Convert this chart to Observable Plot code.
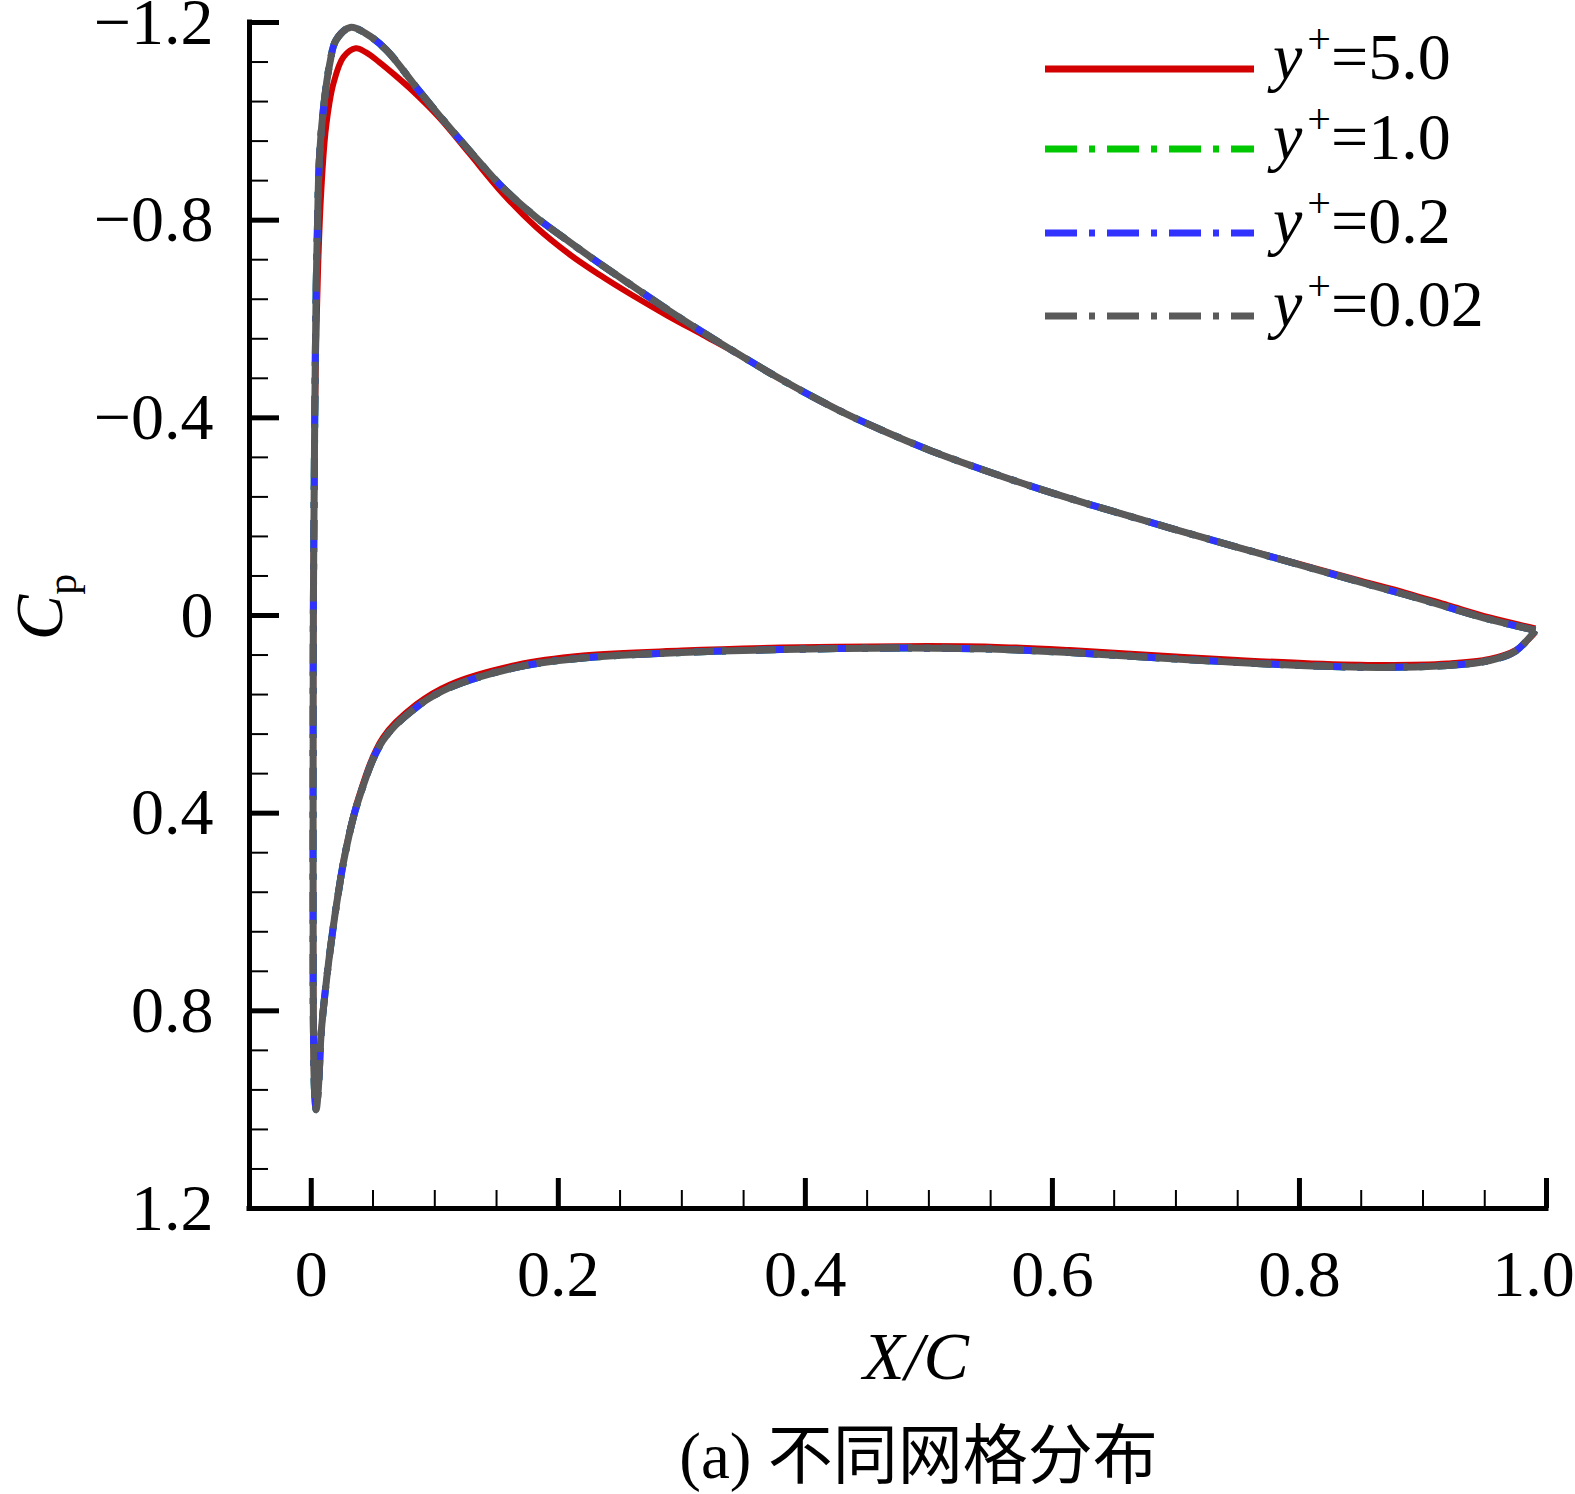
<!DOCTYPE html>
<html>
<head>
<meta charset="utf-8">
<script src="https://cdn.jsdelivr.net/npm/d3@7"></script>
<script src="https://cdn.jsdelivr.net/npm/@observablehq/plot@0.6"></script>
<style>
html, body { margin: 0; padding: 0; background: #fff; overflow: hidden; }
#chart svg { display: block; }
#caption {
  font-family: 'Liberation Serif', 'Noto Sans CJK SC', serif;
  font-size: 65px; color: #000;
  height: 76px; line-height: 76px; padding-top: 18px;
  width: 1313px; padding-left: 262px; text-align: center; white-space: nowrap;
}
</style>
</head>
<body>
<div id="chart"></div>
<div id="caption">(a) 不同网格分布</div>
<script>
// ---- scale domains and ticks ----
const xDomain = [-0.05, 1.0];
const yDomain = [-1.2, 1.2];
const xTickValues = [0, 0.2, 0.4, 0.6, 0.8, 1.0];
const xTickLabels = ["0", "0.2", "0.4", "0.6", "0.8", "1.0"];
const xMinorTicks = [0.05, 0.1, 0.15, 0.25, 0.3, 0.35, 0.45, 0.5, 0.55, 0.65, 0.7, 0.75, 0.85, 0.9, 0.95];
const yTickValues = [-1.2, -0.8, -0.4, 0, 0.4, 0.8, 1.2];
const yTickLabels = ["\u22121.2", "\u22120.8", "\u22120.4", "0", "0.4", "0.8", "1.2"];
const yMinorTicks = [-1.12, -1.04, -0.96, -0.88, -0.72, -0.64, -0.56, -0.48, -0.32, -0.24, -0.16, -0.08,
                     0.08, 0.16, 0.24, 0.32, 0.48, 0.56, 0.64, 0.72, 0.88, 0.96, 1.04, 1.12];

// ---- series names ----
const seriesNames = ["y+=5.0", "y+=1.0", "y+=0.2", "y+=0.02"];
const legendValues = ["5.0", "1.0", "0.2", "0.02"];

// ---- Cp along the surface [X/C, Cp]: upper surface TE -> LE, then lower surface LE -> TE ----
// y+ = 5.0 (coarse first cell)
const cpYplus50 = [
  [0.991, 0.026], [0.954, 0.004], [0.920, -0.021], [0.886, -0.046], [0.850, -0.070],
  [0.818, -0.092], [0.784, -0.115], [0.750, -0.138], [0.716, -0.162], [0.683, -0.186],
  [0.650, -0.210], [0.614, -0.237], [0.580, -0.264], [0.546, -0.293], [0.502, -0.333],
  [0.462, -0.375], [0.433, -0.408], [0.405, -0.444], [0.376, -0.484], [0.347, -0.527],
  [0.317, -0.568], [0.289, -0.606], [0.260, -0.648], [0.233, -0.690], [0.209, -0.731],
  [0.182, -0.786], [0.155, -0.854], [0.128, -0.935], [0.107, -0.998], [0.095, -1.030],
  [0.082, -1.062], [0.068, -1.093], [0.055, -1.120], [0.044, -1.140], [0.036, -1.148],
  [0.026, -1.130], [0.018, -1.077], [0.012, -0.988], [0.008, -0.854], [0.0055, -0.700],
  [0.004, -0.550], [0.003, -0.400], [0.0022, -0.200], [0.0017, 0.000], [0.0015, 0.300],
  [0.0015, 0.600], [0.0018, 0.850], [0.0028, 0.970], [0.004, 0.995],
  [0.006, 0.945], [0.008, 0.846], [0.012, 0.745], [0.017, 0.645], [0.022, 0.558],
  [0.028, 0.472], [0.038, 0.370], [0.058, 0.247], [0.085, 0.180], [0.112, 0.140],
  [0.166, 0.100], [0.220, 0.081], [0.300, 0.071], [0.380, 0.065], [0.478, 0.062],
  [0.550, 0.063], [0.614, 0.070], [0.680, 0.080], [0.750, 0.090], [0.810, 0.097],
  [0.868, 0.100], [0.920, 0.097], [0.954, 0.088], [0.975, 0.070], [0.991, 0.034]
];
// y+ = 1.0, 0.2, 0.02 (refined meshes, practically coincident)
const cpYplus10 = [
  [0.991, 0.030], [0.954, 0.008], [0.920, -0.017], [0.886, -0.042], [0.850, -0.067],
  [0.818, -0.090], [0.784, -0.114], [0.750, -0.138], [0.716, -0.162], [0.683, -0.186],
  [0.650, -0.210], [0.614, -0.237], [0.580, -0.264], [0.546, -0.293], [0.502, -0.333],
  [0.462, -0.375], [0.433, -0.408], [0.405, -0.444], [0.376, -0.484], [0.347, -0.527],
  [0.317, -0.573], [0.289, -0.618], [0.260, -0.667], [0.233, -0.713], [0.209, -0.756],
  [0.182, -0.806], [0.155, -0.866], [0.128, -0.941], [0.107, -1.002], [0.085, -1.069],
  [0.061, -1.144], [0.044, -1.178], [0.0315, -1.190], [0.020, -1.164], [0.015, -1.117],
  [0.0097, -1.022], [0.0065, -0.920], [0.005, -0.785], [0.004, -0.664], [0.003, -0.450],
  [0.0022, -0.200], [0.0017, 0.000], [0.0015, 0.300], [0.0015, 0.600], [0.0018, 0.850],
  [0.0028, 0.970], [0.004, 1.000],
  [0.006, 0.947], [0.008, 0.846], [0.012, 0.745], [0.017, 0.645], [0.022, 0.560],
  [0.028, 0.475], [0.038, 0.375], [0.058, 0.253], [0.085, 0.186], [0.112, 0.146],
  [0.166, 0.105], [0.220, 0.086], [0.300, 0.075], [0.380, 0.069], [0.478, 0.066],
  [0.550, 0.068], [0.614, 0.075], [0.680, 0.085], [0.750, 0.095], [0.810, 0.102],
  [0.868, 0.105], [0.920, 0.101], [0.954, 0.091], [0.975, 0.072], [0.991, 0.030]
];
const cpYplus02 = [
  [0.991, 0.030], [0.954, 0.008], [0.920, -0.017], [0.886, -0.042], [0.850, -0.067],
  [0.818, -0.090], [0.784, -0.114], [0.750, -0.138], [0.716, -0.162], [0.683, -0.186],
  [0.650, -0.210], [0.614, -0.237], [0.580, -0.264], [0.546, -0.293], [0.502, -0.333],
  [0.462, -0.375], [0.433, -0.408], [0.405, -0.444], [0.376, -0.484], [0.347, -0.527],
  [0.317, -0.573], [0.289, -0.618], [0.260, -0.667], [0.233, -0.713], [0.209, -0.756],
  [0.182, -0.806], [0.155, -0.866], [0.128, -0.941], [0.107, -1.002], [0.085, -1.069],
  [0.061, -1.144], [0.044, -1.178], [0.0315, -1.190], [0.020, -1.164], [0.015, -1.117],
  [0.0097, -1.022], [0.0065, -0.920], [0.005, -0.785], [0.004, -0.664], [0.003, -0.450],
  [0.0022, -0.200], [0.0017, 0.000], [0.0015, 0.300], [0.0015, 0.600], [0.0018, 0.850],
  [0.0028, 0.970], [0.004, 1.000],
  [0.006, 0.947], [0.008, 0.846], [0.012, 0.745], [0.017, 0.645], [0.022, 0.560],
  [0.028, 0.475], [0.038, 0.375], [0.058, 0.253], [0.085, 0.186], [0.112, 0.146],
  [0.166, 0.105], [0.220, 0.086], [0.300, 0.075], [0.380, 0.069], [0.478, 0.066],
  [0.550, 0.068], [0.614, 0.075], [0.680, 0.085], [0.750, 0.095], [0.810, 0.102],
  [0.868, 0.105], [0.920, 0.101], [0.954, 0.091], [0.975, 0.072], [0.991, 0.030]
];
const cpYplus002 = [
  [0.991, 0.030], [0.954, 0.008], [0.920, -0.017], [0.886, -0.042], [0.850, -0.067],
  [0.818, -0.090], [0.784, -0.114], [0.750, -0.138], [0.716, -0.162], [0.683, -0.186],
  [0.650, -0.210], [0.614, -0.237], [0.580, -0.264], [0.546, -0.293], [0.502, -0.333],
  [0.462, -0.375], [0.433, -0.408], [0.405, -0.444], [0.376, -0.484], [0.347, -0.527],
  [0.317, -0.573], [0.289, -0.618], [0.260, -0.667], [0.233, -0.713], [0.209, -0.756],
  [0.182, -0.806], [0.155, -0.866], [0.128, -0.941], [0.107, -1.002], [0.085, -1.069],
  [0.061, -1.144], [0.044, -1.178], [0.0315, -1.190], [0.020, -1.164], [0.015, -1.117],
  [0.0097, -1.022], [0.0065, -0.920], [0.005, -0.785], [0.004, -0.664], [0.003, -0.450],
  [0.0022, -0.200], [0.0017, 0.000], [0.0015, 0.300], [0.0015, 0.600], [0.0018, 0.850],
  [0.0028, 0.970], [0.004, 1.000],
  [0.006, 0.947], [0.008, 0.846], [0.012, 0.745], [0.017, 0.645], [0.022, 0.560],
  [0.028, 0.475], [0.038, 0.375], [0.058, 0.253], [0.085, 0.186], [0.112, 0.146],
  [0.166, 0.105], [0.220, 0.086], [0.300, 0.075], [0.380, 0.069], [0.478, 0.066],
  [0.550, 0.068], [0.614, 0.075], [0.680, 0.085], [0.750, 0.095], [0.810, 0.102],
  [0.868, 0.105], [0.920, 0.101], [0.954, 0.091], [0.975, 0.072], [0.991, 0.030]
];

// ---- styles ----
const colors = ["#d20000", "#00c800", "#3232ff", "#5a5a5a"];
const dashes = [null, "32,12,6,12", "32,12,6,12", "54,8"];
const dashOffsets = [0, 0, 0, 34];
const widths = [6, 7, 7, 7];
const seriesData = [cpYplus50, cpYplus10, cpYplus02, cpYplus002];

// ---- layout ----
const W = 1575, H = 1400;
const mTop = 22, mLeft = 249, mRight = 29, mBottom = H - 1208;
const innerW = W - mLeft - mRight;
const innerH = H - mTop - mBottom;
const FS = 66;

const lineMarks = seriesData.map((data, i) => Plot.line(data, {
  x: d => d[0], y: d => d[1],
  stroke: colors[i], strokeWidth: widths[i],
  strokeDasharray: dashes[i] || undefined, strokeDashoffset: dashOffsets[i],
  strokeLinecap: "butt", strokeLinejoin: "round",
  curve: "catmull-rom"
}));

const xFmt = d => xTickLabels[xTickValues.indexOf(d)];
const yFmt = d => yTickLabels[yTickValues.indexOf(d)];

const plot = Plot.plot({
  width: W, height: H,
  marginTop: mTop, marginLeft: mLeft, marginRight: mRight, marginBottom: mBottom,
  style: { fontFamily: "'Liberation Serif','Times New Roman',serif", background: "#fff", color: "#000", overflow: "visible" },
  x: { domain: xDomain, label: null },
  y: { domain: yDomain, reverse: true, label: null },
  marks: [
    ...lineMarks,
    // axis lines
    Plot.ruleX([xDomain[0]], { stroke: "#000", strokeWidth: 5, strokeLinecap: "square" }),
    Plot.ruleY([yDomain[1]], { stroke: "#000", strokeWidth: 5, strokeLinecap: "square" }),
    // inward ticks
    Plot.tickX(xTickValues, { x: d => d, stroke: "#000", strokeWidth: 5, insetTop: innerH - 30 }),
    Plot.tickX(xMinorTicks, { x: d => d, stroke: "#000", strokeWidth: 2, insetTop: innerH - 18 }),
    Plot.tickY(yTickValues, { y: d => d, stroke: "#000", strokeWidth: 5, insetRight: innerW - 30 }),
    Plot.tickY(yMinorTicks, { y: d => d, stroke: "#000", strokeWidth: 2, insetRight: innerW - 19 }),
    // tick labels
    Plot.axisX({ ticks: xTickValues.filter(v => v < 1), tickSize: 0, tickPadding: 41, fontSize: FS, tickFormat: xFmt, label: null }),
    Plot.axisX({ ticks: xTickValues.filter(v => v >= 1), tickSize: 0, tickPadding: 41, fontSize: FS, tickFormat: xFmt, label: null, dx: -13 }),
    Plot.axisY({ ticks: yTickValues, tickSize: 0, tickPadding: 36, fontSize: FS, tickFormat: yFmt, label: null })
  ]
});
document.getElementById("chart").appendChild(plot);

// ---- axis titles and legend (text) ----
const svg = d3.select(plot);
const serif = "'Liberation Serif','Times New Roman',serif";

svg.append("text")
  .attr("x", 916).attr("y", 1379)
  .attr("text-anchor", "middle")
  .attr("font-family", serif).attr("font-size", 68).attr("font-style", "italic")
  .attr("fill", "#000")
  .text("X/C");

const yl = svg.append("text")
  .attr("transform", "translate(62,607) rotate(-90)")
  .attr("text-anchor", "middle")
  .attr("font-family", serif).attr("font-size", 68).attr("fill", "#000");
yl.append("tspan").attr("font-style", "italic").text("C");
yl.append("tspan").attr("font-size", 42).attr("dy", 14).text("p");

const legendRowY = [69, 149, 233, 316];
const lg = svg.append("g").attr("class", "legend");
seriesNames.forEach((name, i) => {
  const y = legendRowY[i];
  const ln = lg.append("line")
    .attr("x1", 1045).attr("x2", 1254).attr("y1", y).attr("y2", y)
    .attr("stroke", colors[i]).attr("stroke-width", 7).attr("stroke-linecap", "butt");
  if (i > 0) ln.attr("stroke-dasharray", "32,12,6,12");
  const t = lg.append("text")
    .attr("x", 1273).attr("y", y + 10)
    .attr("text-anchor", "start")
    .attr("font-family", serif).attr("font-size", FS).attr("fill", "#000");
  t.append("tspan").attr("font-style", "italic").text("y");
  t.append("tspan").attr("font-size", 42).attr("dx", 5).attr("dy", -26).text("+");
  t.append("tspan").attr("dy", 26).text("=" + legendValues[i]);
});
</script>
</body>
</html>
